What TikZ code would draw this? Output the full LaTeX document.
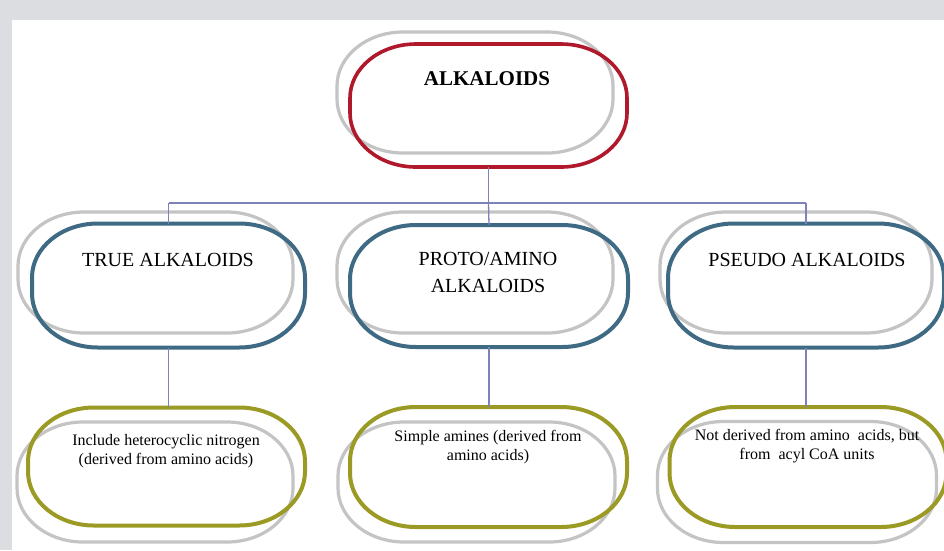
\documentclass[tikz,border=0pt]{standalone}
\usepackage{fontspec}
\setmainfont{Liberation Serif}
\usetikzlibrary{calc}
\definecolor{bgGrey}{HTML}{DCDDE0}
\definecolor{shadowGrey}{HTML}{C4C4C4}
\definecolor{topRed}{HTML}{B0182C}
\definecolor{midBlue}{HTML}{3F6A84}
\definecolor{botGreen}{HTML}{9A9A24}
\definecolor{linkPurple}{HTML}{7F82B8}
\tikzset{
  shadowline/.style={draw=shadowGrey, line width=3.2pt},
  redline/.style={draw=topRed, line width=3.6pt},
  blueline/.style={draw=midBlue, line width=4pt},
  greenline/.style={draw=botGreen, line width=4pt},
  bigtext/.style={font=\fontsize{20}{27}\selectfont, align=center, inner sep=0pt},
  smalltext/.style={font=\fontsize{16}{19}\selectfont, align=center, inner sep=0pt},
  link/.style={draw=linkPurple, line width=1.3pt}
}
\newcommand{\prx}{66}
\newcommand{\pry}{54}
% #1 name, #2 cx, #3 cy, #4 width, #5 height, #6 line style
\newcommand{\pillat}[6]{%
  \node[minimum width=#4pt, minimum height=#5pt, inner sep=0pt, outer sep=0pt] (#1) at (#2,#3) {};
  \draw[#6] ($(#1.north west)+(\prx,0)$) -- ($(#1.north east)+(-\prx,0)$)
    arc[start angle=-90, end angle=0, x radius=\prx, y radius=\pry]
    -- ($(#1.south east)+(0,-\pry)$)
    arc[start angle=0, end angle=90, x radius=\prx, y radius=\pry]
    -- ($(#1.south west)+(\prx,0)$)
    arc[start angle=90, end angle=180, x radius=\prx, y radius=\pry]
    -- ($(#1.north west)+(0,\pry)$)
    arc[start angle=180, end angle=270, x radius=\prx, y radius=\pry]
    -- cycle;
}
\begin{document}
\begin{tikzpicture}[x=1pt,y=-1pt]
\fill[bgGrey] (0,0) rectangle (944,550);
\fill[white] (12,20) rectangle (944,550);
\useasboundingbox (0,0) rectangle (944,550);

% shadows
\pillat{topS}{475}{92.5}{276}{121}{shadowline}
\pillat{trueS}{155.5}{272.5}{275}{121}{shadowline}
\pillat{protoS}{475}{272.5}{276}{121}{shadowline}
\pillat{pseudoS}{796}{272.5}{272}{121}{shadowline}
\pillat{trueDS}{155}{482}{276}{120}{shadowline}
\pillat{protoDS}{476.5}{482}{277}{120}{shadowline}
\pillat{pseudoDS}{797}{482}{279}{121}{shadowline}

% main pills
\pillat{top}{488.5}{105.5}{277}{123}{redline}
\pillat{true}{168.5}{285.5}{273}{124}{blueline}
\pillat{proto}{489}{286}{278}{122}{blueline}
\pillat{pseudo}{806}{285.5}{276}{124}{blueline}
\pillat{trueD}{166.5}{466.5}{277}{118}{greenline}
\pillat{protoD}{488.5}{467}{277}{120}{greenline}
\pillat{pseudoD}{808}{467}{277}{120}{greenline}

% texts
\node[bigtext, font=\fontsize{21}{27}\selectfont\bfseries] (topT) at (487,79) {ALKALOIDS};
\node[bigtext] (trueT) at (168,260) {TRUE ALKALOIDS};
\node[bigtext] (protoT) at (488,272) {PROTO/AMINO\\ALKALOIDS};
\node[bigtext] (pseudoT) at (807,260) {PSEUDO ALKALOIDS};
\node[smalltext] (trueDT) at (166,451) {Include heterocyclic nitrogen\\(derived from amino acids)};
\node[smalltext] (protoDT) at (488,447.5) {Simple amines (derived from\\amino acids)};
\node[smalltext] (pseudoDT) at (807,446) {Not derived from amino\ \ acids, but\\from\ \ acyl CoA units};

% connectors
\coordinate (busC) at (488.5,203);
\coordinate (busL) at (168.5,203);
\coordinate (busR) at (806,203);
\draw[link] (top.south) -- (busC);
\draw[link] (busL) -- (busR);
\draw[link] (busL) -- (true.north);
\draw[link] (busC) -- (proto.north);
\draw[link] (busR) -- (pseudo.north);
\draw[link] (true.south) -- (true.south |- trueD.north);
\draw[link] (proto.south) -- (proto.south |- protoD.north);
\draw[link] (pseudo.south) -- (pseudo.south |- pseudoD.north);
\end{tikzpicture}
\end{document}
